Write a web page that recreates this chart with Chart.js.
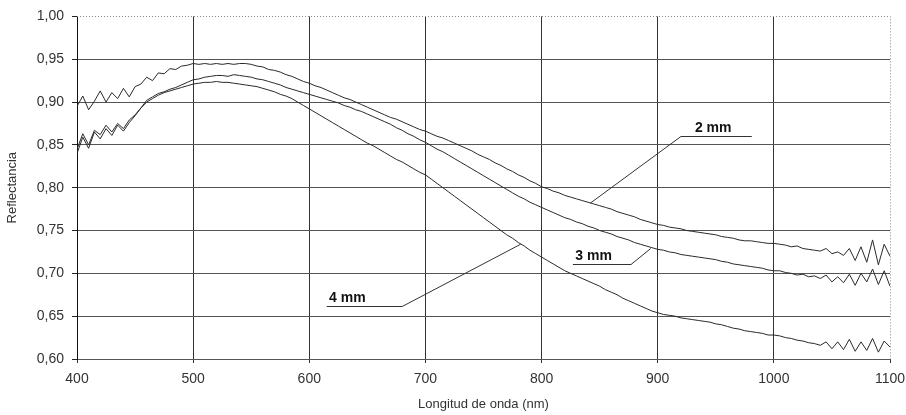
<!DOCTYPE html>
<html>
<head>
<meta charset="utf-8">
<script src="https://cdn.jsdelivr.net/npm/chart.js@4"></script>
<style>
  body { margin: 0; background: #fff; }
</style>
</head>
<body>
<canvas id="chart" width="906" height="415"></canvas>
<script>
// wavelength (nm), step 5
const wavelengths = [
  400, 405, 410, 415, 420, 425, 430, 435, 440, 445, 450, 455, 460, 465, 470, 475, 480, 485, 490, 495,
  500, 505, 510, 515, 520, 525, 530, 535, 540, 545, 550, 555, 560, 565, 570, 575, 580, 585, 590, 595,
  600, 605, 610, 615, 620, 625, 630, 635, 640, 645, 650, 655, 660, 665, 670, 675, 680, 685, 690, 695,
  700, 705, 710, 715, 720, 725, 730, 735, 740, 745, 750, 755, 760, 765, 770, 775, 780, 785, 790, 795,
  800, 805, 810, 815, 820, 825, 830, 835, 840, 845, 850, 855, 860, 865, 870, 875, 880, 885, 890, 895,
  900, 905, 910, 915, 920, 925, 930, 935, 940, 945, 950, 955, 960, 965, 970, 975, 980, 985, 990, 995,
  1000, 1005, 1010, 1015, 1020, 1025, 1030, 1035, 1040, 1045, 1050, 1055, 1060, 1065, 1070, 1075, 1080, 1085, 1090, 1095,
  1100
];

const refl2mm = [
  0.895, 0.907, 0.891, 0.901, 0.913, 0.900, 0.911, 0.904, 0.916, 0.906, 0.918, 0.921, 0.929, 0.925, 0.934, 0.933, 0.939, 0.938, 0.942, 0.943,
  0.945, 0.944, 0.945, 0.944, 0.945, 0.944, 0.945, 0.944, 0.945, 0.945, 0.944, 0.942, 0.941, 0.938, 0.937, 0.935, 0.932, 0.930, 0.927, 0.924,
  0.922, 0.919, 0.917, 0.914, 0.911, 0.908, 0.905, 0.903, 0.900, 0.897, 0.894, 0.891, 0.888, 0.885, 0.882, 0.880, 0.877, 0.874, 0.871, 0.868,
  0.866, 0.863, 0.860, 0.858, 0.855, 0.852, 0.849, 0.846, 0.843, 0.839, 0.836, 0.833, 0.829, 0.826, 0.822, 0.819, 0.815, 0.812, 0.808, 0.805,
  0.801, 0.799, 0.796, 0.794, 0.791, 0.789, 0.787, 0.785, 0.783, 0.781, 0.779, 0.777, 0.775, 0.772, 0.770, 0.768, 0.766, 0.763, 0.761, 0.759,
  0.757, 0.756, 0.754, 0.753, 0.752, 0.750, 0.749, 0.748, 0.747, 0.746, 0.745, 0.743, 0.742, 0.741, 0.739, 0.738, 0.738, 0.737, 0.736, 0.735,
  0.735, 0.734, 0.733, 0.731, 0.732, 0.729, 0.728, 0.727, 0.726, 0.729, 0.723, 0.725, 0.721, 0.729, 0.715, 0.731, 0.713, 0.739, 0.710, 0.734,
  0.720
];

const refl3mm = [
  0.845, 0.863, 0.850, 0.867, 0.862, 0.873, 0.865, 0.875, 0.869, 0.879, 0.885, 0.893, 0.902, 0.906, 0.910, 0.912, 0.915, 0.917, 0.920, 0.923,
  0.926, 0.927, 0.929, 0.930, 0.931, 0.931, 0.930, 0.932, 0.931, 0.930, 0.929, 0.927, 0.926, 0.924, 0.922, 0.920, 0.917, 0.915, 0.913, 0.911,
  0.909, 0.907, 0.905, 0.903, 0.901, 0.899, 0.896, 0.894, 0.891, 0.889, 0.886, 0.883, 0.880, 0.877, 0.874, 0.870, 0.867, 0.863, 0.860, 0.856,
  0.853, 0.849, 0.845, 0.842, 0.838, 0.834, 0.830, 0.826, 0.822, 0.818, 0.814, 0.810, 0.806, 0.802, 0.798, 0.794, 0.790, 0.787, 0.783, 0.780,
  0.777, 0.774, 0.771, 0.768, 0.765, 0.763, 0.760, 0.758, 0.755, 0.753, 0.750, 0.748, 0.746, 0.743, 0.741, 0.739, 0.736, 0.734, 0.732, 0.730,
  0.728, 0.727, 0.725, 0.724, 0.722, 0.721, 0.720, 0.719, 0.718, 0.717, 0.716, 0.714, 0.713, 0.711, 0.710, 0.709, 0.708, 0.707, 0.706, 0.704,
  0.703, 0.703, 0.701, 0.700, 0.698, 0.699, 0.696, 0.697, 0.694, 0.698, 0.690, 0.696, 0.689, 0.699, 0.686, 0.700, 0.690, 0.705, 0.687, 0.703,
  0.685
];

const refl4mm = [
  0.840, 0.859, 0.846, 0.865, 0.857, 0.869, 0.861, 0.873, 0.866, 0.876, 0.884, 0.893, 0.900, 0.904, 0.908, 0.911, 0.913, 0.915, 0.917, 0.919,
  0.921, 0.922, 0.923, 0.923, 0.924, 0.923, 0.923, 0.922, 0.921, 0.920, 0.919, 0.918, 0.916, 0.914, 0.912, 0.909, 0.907, 0.904, 0.900, 0.896,
  0.892, 0.888, 0.884, 0.880, 0.876, 0.872, 0.868, 0.864, 0.860, 0.856, 0.852, 0.849, 0.845, 0.841, 0.837, 0.833, 0.830, 0.826, 0.822, 0.818,
  0.815, 0.810, 0.805, 0.800, 0.795, 0.790, 0.785, 0.780, 0.775, 0.770, 0.765, 0.760, 0.755, 0.750, 0.745, 0.741, 0.736, 0.732, 0.727, 0.723,
  0.719, 0.715, 0.711, 0.707, 0.703, 0.700, 0.697, 0.694, 0.691, 0.688, 0.685, 0.681, 0.678, 0.675, 0.671, 0.668, 0.665, 0.662, 0.659, 0.656,
  0.654, 0.652, 0.651, 0.650, 0.648, 0.647, 0.646, 0.645, 0.644, 0.643, 0.641, 0.640, 0.638, 0.636, 0.635, 0.633, 0.632, 0.631, 0.630, 0.628,
  0.628, 0.627, 0.625, 0.624, 0.622, 0.621, 0.619, 0.618, 0.616, 0.620, 0.612, 0.620, 0.611, 0.623, 0.609, 0.620, 0.610, 0.624, 0.608, 0.621,
  0.614
];

// curve labels: text anchor, underline and leader target, in data units
const labelText = ['2 mm', '3 mm', '4 mm'];
const labelTextNm = [932, 829, 617];
const lineStartNm = [920, 827, 615];
const lineEndNm = [981, 877, 680];
const lineLevel = [0.860, 0.711, 0.662];
const pointerNm = [842, 894, 782];
const pointerLevel = [0.782, 0.729, 0.734];

const FONT = "'Liberation Sans', Arial, sans-serif";

const toPoints = (values) => wavelengths.map((w, i) => ({ x: w, y: values[i] }));

const curveLabels = {
  id: 'curveLabels',
  afterDatasetsDraw(chart) {
    const { ctx, scales: { x, y } } = chart;
    ctx.save();
    ctx.strokeStyle = '#333';
    ctx.lineWidth = 1;
    ctx.fillStyle = '#111';
    ctx.font = 'bold 14px ' + FONT;
    ctx.textBaseline = 'alphabetic';
    labelText.forEach((txt, i) => {
      const yl = Math.round(y.getPixelForValue(lineLevel[i])) + 0.5;
      const x0 = x.getPixelForValue(lineStartNm[i]);
      const x1 = x.getPixelForValue(lineEndNm[i]);
      const px = x.getPixelForValue(pointerNm[i]);
      const py = y.getPixelForValue(pointerLevel[i]);
      const from = px < x0 ? x0 : x1;
      ctx.beginPath();
      ctx.moveTo(x0, yl);
      ctx.lineTo(x1, yl);
      ctx.moveTo(from, yl);
      ctx.lineTo(px, py);
      ctx.stroke();
      ctx.fillText(txt, x.getPixelForValue(labelTextNm[i]), yl - 5);
    });
    ctx.restore();
  },
  afterDraw(chart) {
    // dotted top and right frame
    const { ctx, chartArea: a } = chart;
    ctx.save();
    ctx.strokeStyle = '#888';
    ctx.lineWidth = 1;
    ctx.setLineDash([1, 2]);
    ctx.beginPath();
    ctx.moveTo(a.left, Math.round(a.top) + 0.5);
    ctx.lineTo(a.right, Math.round(a.top) + 0.5);
    ctx.moveTo(Math.round(a.right) + 0.5, a.top);
    ctx.lineTo(Math.round(a.right) + 0.5, a.bottom);
    ctx.stroke();
    ctx.restore();
  }
};

new Chart(document.getElementById('chart'), {
  type: 'line',
  data: {
    datasets: [
      { label: '2 mm', data: toPoints(refl2mm) },
      { label: '3 mm', data: toPoints(refl3mm) },
      { label: '4 mm', data: toPoints(refl4mm) },
    ].map((d) => ({
      ...d,
      borderColor: '#2a2a2a',
      borderWidth: 1,
      pointRadius: 0,
      fill: false,
      tension: 0,
    })),
  },
  options: {
    responsive: false,
    animation: false,
    layout: { padding: { top: 14, right: 16, left: 0, bottom: 0 } },
    plugins: {
      legend: { display: false },
      tooltip: { enabled: false },
    },
    scales: {
      x: {
        type: 'linear',
        min: 400,
        max: 1100,
        afterFit: (s) => {
          s.height = 56;
          s.paddingLeft = 0;
          s.paddingRight = 0;
        },
        ticks: {
          stepSize: 100,
          color: '#333',
          font: { family: FONT, size: 14 },
          padding: 8,
          maxRotation: 0,
          callback: (v) => String(v),
        },
        grid: {
          color: (c) => (c.tick && c.tick.value >= 1100 ? 'rgba(0,0,0,0)' : '#333'),
          lineWidth: 1,
          tickLength: 4,
          tickColor: '#333',
        },
        border: { color: '#555', width: 1 },
        title: {
          display: true,
          text: 'Longitud de onda (nm)',
          color: '#333',
          font: { family: FONT, size: 13 },
          padding: { top: 4, bottom: 3 },
        },
      },
      y: {
        min: 0.6,
        max: 1.0,
        afterFit: (s) => { s.width = 77; },
        ticks: {
          stepSize: 0.05,
          color: '#333',
          font: { family: FONT, size: 14 },
          padding: 8,
          callback: (v) => v.toFixed(2).replace('.', ','),
        },
        grid: {
          color: (c) => (c.tick && c.tick.value >= 0.999 ? 'rgba(0,0,0,0)' : '#555'),
          lineWidth: 1,
          tickLength: 5,
          tickColor: '#222',
        },
        border: { color: '#111', width: 1 },
        title: {
          display: true,
          text: 'Reflectancia',
          color: '#333',
          font: { family: FONT, size: 13 },
          padding: { top: 5, bottom: 4 },
        },
      },
    },
  },
  plugins: [curveLabels],
});
</script>
</body>
</html>
